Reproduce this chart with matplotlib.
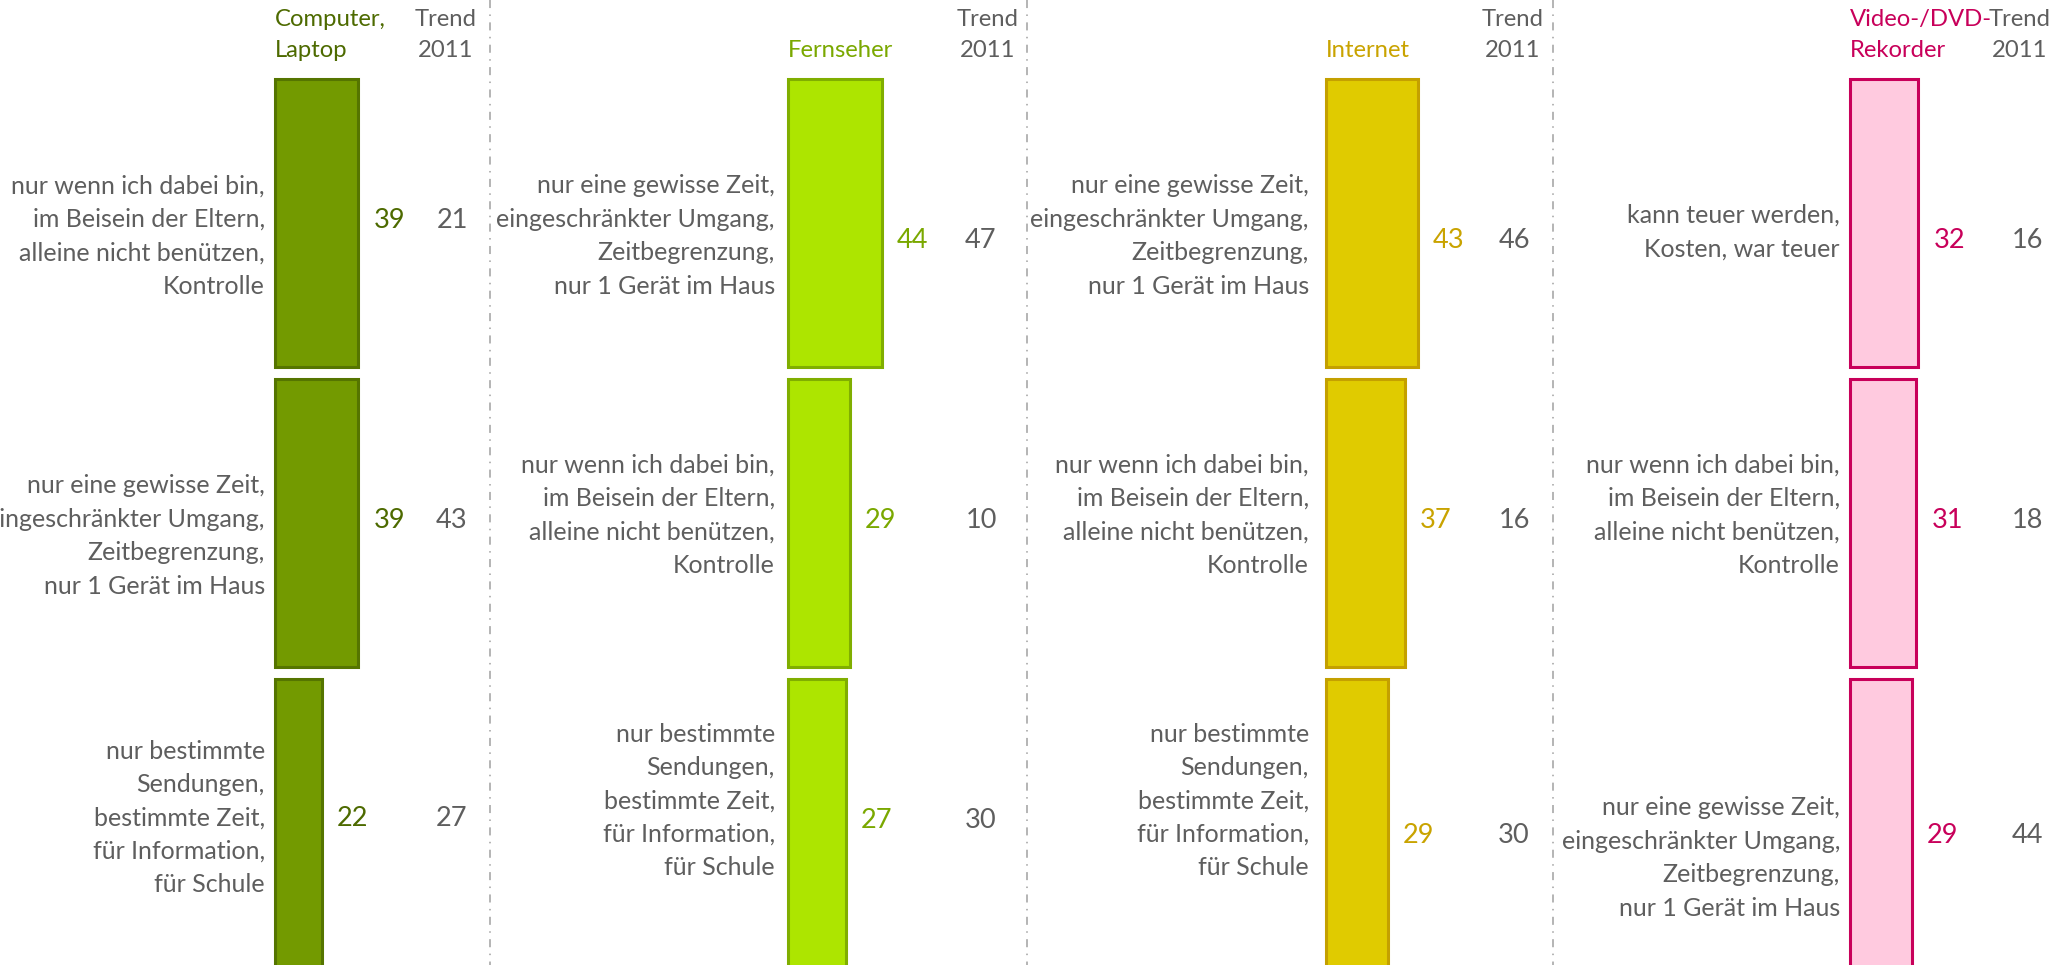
import matplotlib
matplotlib.use("Agg")
import matplotlib.pyplot as plt

# ---------------- data ----------------
panels = ["Computer,\nLaptop", "Fernseher", "Internet", "Video-/DVD-\nRekorder"]

TXT_ZEIT = "nur eine gewisse Zeit,\neingeschränkter Umgang,\nZeitbegrenzung,\nnur 1 Gerät im Haus"
TXT_DABEI = "nur wenn ich dabei bin,\nim Beisein der Eltern,\nalleine nicht benützen,\nKontrolle"
TXT_BEST = "nur bestimmte\nSendungen,\nbestimmte Zeit,\nfür Information,\nfür Schule"
TXT_TEUER = "kann teuer werden,\nKosten, war teuer"

computer_labels = [TXT_DABEI, TXT_ZEIT, TXT_BEST]
computer_values = [39, 39, 22]
computer_trend = [21, 43, 27]

fernseher_labels = [TXT_ZEIT, TXT_DABEI, TXT_BEST]
fernseher_values = [44, 29, 27]
fernseher_trend = [47, 10, 30]

internet_labels = [TXT_ZEIT, TXT_DABEI, TXT_BEST]
internet_values = [43, 37, 29]
internet_trend = [46, 16, 30]

video_labels = [TXT_TEUER, TXT_DABEI, TXT_ZEIT]
video_values = [32, 31, 29]
video_trend = [16, 18, 44]

trend_header = "Trend\n2011"

# ---------------- styling / layout ----------------
W, H = 2053, 965
DPI = 100
SCALE = 2.14          # pixels per percentage point
PITCH = 300.0         # px between bar centres
C0 = 223.0            # px of first bar centre from top

fills = ["#739A00", "#ADE500", "#E0CB00", "#FFCADF"]
edges = ["#557500", "#80AE00", "#C4A000", "#C8005A"]
tcols = ["#4D6A00", "#7AA800", "#C9A300", "#C8005A"]
GRAY = "#5E5E5E"
SEP = "#A0A0A0"

bar_left_px = [275, 788, 1326, 1850]
label_right_px = [265, 775, 1309, 1840]
trend_x_px = [452, 981, 1514, 2027]
trend_head_x_px = [446, 988, 1513, 2020]
sep_px = [490, 1027, 1553]
label_y_px = [[236, 536, 818], [236, 515, 801], [236, 515, 801], [232, 515, 858]]
value_y_px = [[220, 520, 818], [240, 520, 820], [240, 520, 835], [240, 520, 835]]

FONT = ["Lato", "DejaVu Sans"]
FS_LAB = 18.0
FS_HEAD = 17.2
FS_VAL = 19.5
LS = 1.55

plt.rcParams["font.family"] = FONT
plt.rcParams["lines.scale_dashes"] = False

fig = plt.figure(figsize=(W / DPI, H / DPI), dpi=DPI)
ax = fig.add_axes([0, 0, 1, 1])
ax.set_xlim(0, W / SCALE)
ax.set_ylim((H - C0) / PITCH, -C0 / PITCH)
ax.axis("off")


def X(px):
    return px / SCALE


def Y(py):
    return (py - C0) / PITCH


all_labels = [computer_labels, fernseher_labels, internet_labels, video_labels]
all_values = [computer_values, fernseher_values, internet_values, video_values]
all_trend = [computer_trend, fernseher_trend, internet_trend, video_trend]

for p in range(4):
    left = X(bar_left_px[p])
    ax.barh([0, 1, 2], all_values[p], height=288 / PITCH, left=left,
            color=fills[p], edgecolor=edges[p], linewidth=2.2, zorder=2)
    for i in range(3):
        v = all_values[p][i]
        ax.text(left + v + X(15), Y(value_y_px[p][i]), f"{v}", ha="left", va="center",
                fontsize=FS_VAL, color=tcols[p])
        ax.text(X(trend_x_px[p]), Y(value_y_px[p][i]), f"{all_trend[p][i]}", ha="center",
                va="center", fontsize=FS_VAL, color=GRAY)
        ax.text(X(label_right_px[p]), Y(label_y_px[p][i]), all_labels[p][i], ha="right",
                va="center", fontsize=FS_LAB, color=GRAY, linespacing=LS, multialignment="right")
    # headers
    ax.text(left, Y(61), panels[p], ha="left", va="bottom", fontsize=FS_HEAD,
            color=tcols[p], linespacing=1.6)
    ax.text(X(trend_head_x_px[p]), Y(61), trend_header, ha="center", va="bottom",
            fontsize=FS_HEAD, color=GRAY, linespacing=1.6)

for s in sep_px:
    ax.plot([X(s), X(s)], [Y(0), Y(H)], color=SEP, linewidth=1.1,
            linestyle=(0, (5.8, 4.6, 1.1, 4.6)), zorder=1)

fig.savefig("out.png", dpi=DPI)
